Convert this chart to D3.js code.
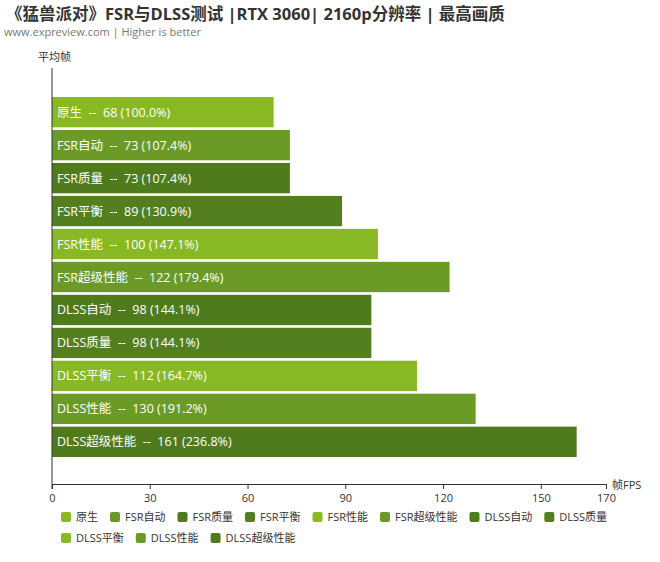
<!DOCTYPE html>
<html><head><meta charset="utf-8">
<script src="https://cdn.jsdelivr.net/npm/d3@7.9.0/dist/d3.min.js"></script>
<style>
body{margin:0;background:#fff;font-family:"Open Sans","Noto Sans CJK SC",sans-serif;}
</style></head><body>
<svg width="660" height="562"></svg>
<script>
const categories = ['原生','FSR自动','FSR质量','FSR平衡','FSR性能','FSR超级性能','DLSS自动','DLSS质量','DLSS平衡','DLSS性能','DLSS超级性能'];
const values = [68, 73, 73, 89, 100, 122, 98, 98, 112, 130, 161];
const percents = ['100.0%','107.4%','107.4%','130.9%','147.1%','179.4%','144.1%','144.1%','164.7%','191.2%','236.8%'];
const xTicks = [0, 30, 60, 90, 120, 150, 170];
const colors = ['#88b824','#6b9b26','#4f7b1c','#537f1f','#88b824','#6b9b26','#4f7b1c','#537f1f','#88b824','#6b9b26','#4f7b1c'];

const svg = d3.select('svg');
const font = '"Open Sans","Noto Sans CJK SC",sans-serif';

svg.append('text').attr('x', 6).attr('y', 20).attr('font-size', 16.5).attr('font-weight', 'bold')
  .attr('fill', '#333').attr('font-family', font).text('《猛兽派对》FSR与DLSS测试 |RTX 3060| 2160p分辨率 | 最高画质');
svg.append('text').attr('x', 4).attr('y', 36).attr('font-size', 11).attr('fill', '#777')
  .attr('font-family', font).text('www.expreview.com | Higher is better');

const x = d3.scaleLinear().domain([0, 170]).range([52, 606]);
const y = d3.scaleBand().domain(categories).range([97, 457]).paddingInner(0.08);

svg.append('text').attr('x', 38).attr('y', 61).attr('font-size', 11).attr('fill', '#333')
  .attr('font-family', font).text('平均帧');

// bars
const g = svg.append('g');
categories.forEach((c, i) => {
  g.append('rect').attr('x', x(0)).attr('y', y(c)).attr('width', x(values[i]) - x(0))
    .attr('height', y.bandwidth()).attr('fill', colors[i]);
  g.append('text').attr('x', x(0) + 5).attr('y', y(c) + y.bandwidth() / 2 + 4.5)
    .attr('font-size', 12.5).attr('fill', '#fff').attr('font-family', font)
    .attr('xml:space', 'preserve')
    .text(`${c}  --  ${values[i]} (${percents[i]})`);
});

// axes
svg.append('line').attr('x1', 52).attr('x2', 52).attr('y1', 68).attr('y2', 489).attr('stroke', '#333');
const xAxis = d3.axisBottom(x).tickValues(xTicks).tickSize(5).tickSizeOuter(0);
const ax = svg.append('g').attr('transform', 'translate(0,484)').call(xAxis);
ax.select('.domain').attr('stroke', '#333');
ax.selectAll('.tick line').attr('stroke', '#333').attr('y1', 0).attr('y2', 5);
ax.selectAll('.tick text').attr('font-size', 11).attr('fill', '#333').attr('font-family', font).attr('dy', '0.9em');
svg.append('text').attr('x', 612).attr('y', 489).attr('font-size', 11).attr('fill', '#333')
  .attr('font-family', font).text('帧FPS');

// legend
const lg = svg.append('g');
const rows = [[0, 8], [8, 11]];
rows.forEach(([s, e], r) => {
  let lx = 61;
  for (let i = s; i < e; i++) {
    const yy = 517 + r * 21;
    lg.append('rect').attr('x', lx).attr('y', yy - 5).attr('width', 10).attr('height', 10).attr('rx', 2).attr('fill', colors[i]);
    const t = lg.append('text').attr('x', lx + 15).attr('y', yy + 4).attr('font-size', 11)
      .attr('fill', '#333').attr('font-family', font).text(categories[i]);
    lx += 15 + t.node().getComputedTextLength() + 12;
  }
});
</script>
</body></html>
